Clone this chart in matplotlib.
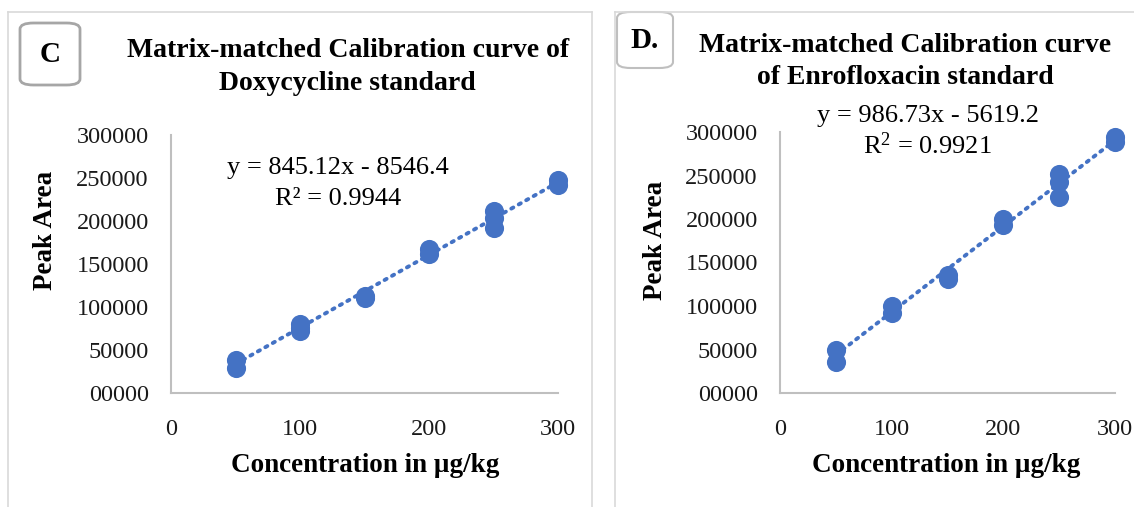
import matplotlib
matplotlib.use("Agg")
import matplotlib.pyplot as plt
from matplotlib.patches import FancyBboxPatch
from matplotlib.lines import Line2D
from matplotlib.ticker import FuncFormatter
import numpy as np

W, H = 1134, 507

# Doxycycline calibration (concentration in µg/kg, peak area)
doxy_conc = [50, 50, 100, 100, 100, 150, 150, 200, 200, 250, 250, 250, 300, 300]
doxy_area = [38000, 28500, 80000, 76000, 72000, 113000, 110000, 168000, 162000,
             212000, 203000, 191500, 247500, 242000]
doxy_slope, doxy_icpt, doxy_r2 = 845.12, -8546.4, 0.9944

# Enrofloxacin calibration
enro_conc = [50, 50, 100, 100, 150, 150, 200, 200, 250, 250, 250, 300, 300]
enro_area = [49000, 35500, 99500, 92500, 136000, 130500, 200500, 193500,
             252000, 243000, 225000, 294000, 288500]
enro_slope, enro_icpt, enro_r2 = 986.73, -5619.2, 0.9921

x_ticks = [0, 100, 200, 300]
y_ticks = [0, 50000, 100000, 150000, 200000, 250000, 300000]

BLUE = "#4472C4"
GRID_GREY = "#bfbfbf"
SERIF = ["Liberation Serif", "DejaVu Serif"]

plt.rcParams["font.family"] = SERIF
plt.rcParams["mathtext.fontset"] = "custom"
plt.rcParams["mathtext.rm"] = "Liberation Serif"
plt.rcParams["mathtext.it"] = "Liberation Serif:italic"
plt.rcParams["mathtext.bf"] = "Liberation Serif:bold"

TITLE_FS = 20
AXLABEL_FS = 19.5
EQ_FS = 19
TICK_FS = 17.5

fig = plt.figure(figsize=(W / 100, H / 100), dpi=100)
fig.patch.set_facecolor("white")


def fx(px):
    return px / W


def fy(py):
    return 1 - py / H


def add_axes_px(x0, x1, ytop, ybot):
    return fig.add_axes([fx(x0), fy(ybot), (x1 - x0) / W, (ybot - ytop) / H])


def panel_frame(x0, x1, ytop, ybot):
    kw = dict(transform=fig.transFigure, color="#d9d9d9", lw=1.2)
    fig.add_artist(Line2D([fx(x0), fx(x0)], [fy(ytop), fy(ybot)], **kw))
    fig.add_artist(Line2D([fx(x0), fx(x1)], [fy(ytop), fy(ytop)], **kw))
    fig.add_artist(Line2D([fx(x1), fx(x1)], [fy(ytop), fy(ybot)], **kw))


def label_box(x0, x1, ytop, ybot, text, ec, lw):
    box = FancyBboxPatch((fx(x0), fy(ybot)), fx(x1) - fx(x0), fy(ytop) - fy(ybot),
                         boxstyle="round,pad=0,rounding_size=0.012",
                         transform=fig.transFigure, fc="white", ec=ec, lw=lw)
    fig.add_artist(box)
    fig.text(fx((x0 + x1) / 2), fy((ytop + ybot) / 2 + 1), text, ha="center",
             va="center", fontsize=21, fontweight="bold")


def draw_panel(ax, conc, area, slope, icpt):
    ax.scatter(conc, area, s=190, color=BLUE, zorder=3, linewidths=0,
               clip_on=False)
    xs = np.array([min(conc), max(conc)])
    ax.plot(xs, slope * xs + icpt, linestyle=(0, (0.6, 1.6)), color=BLUE,
            lw=2.8, zorder=2, dash_capstyle="round")
    ax.set_xlim(0, 300)
    ax.set_ylim(0, 300000)
    ax.set_xticks(x_ticks)
    ax.set_yticks(y_ticks)
    ax.yaxis.set_major_formatter(FuncFormatter(lambda v, p: f"{int(v):05d}"))
    for s in ("top", "right"):
        ax.spines[s].set_visible(False)
    for s in ("left", "bottom"):
        ax.spines[s].set_color(GRID_GREY)
        ax.spines[s].set_linewidth(1.5)
    ax.tick_params(length=0, labelsize=TICK_FS, colors="#1a1a1a")
    ax.tick_params(axis="y", pad=16)
    ax.tick_params(axis="x", pad=19)
    ax.set_facecolor("white")


# Panel frames
panel_frame(8, 592, 12, 520)
panel_frame(615, 1140, 12, 520)

# Panel C: doxycycline
axc = add_axes_px(171, 558, 135, 393)
draw_panel(axc, doxy_conc, doxy_area, doxy_slope, doxy_icpt)
fig.text(fx(348), fy(50), "Matrix-matched Calibration curve of", ha="center",
         va="center", fontsize=TITLE_FS, fontweight="bold")
fig.text(fx(347), fy(84), "Doxycycline standard", ha="center", va="center",
         fontsize=TITLE_FS, fontweight="bold")
fig.text(fx(338), fy(168), f"y = {doxy_slope:.2f}x - {abs(doxy_icpt):.1f}",
         ha="center", va="center", fontsize=EQ_FS)
fig.text(fx(338), fy(199), f"R² = {doxy_r2:.4f}", ha="center", va="center",
         fontsize=EQ_FS)
fig.text(fx(45), fy(230), "Peak Area", rotation=90, ha="center", va="center",
         fontsize=AXLABEL_FS, fontweight="bold")
fig.text(fx(365), fy(466), "Concentration in µg/kg", ha="center", va="center",
         fontsize=AXLABEL_FS, fontweight="bold")
label_box(20, 80, 23, 85, "C", "#a6a6a6", 2.0)

# Panel D: enrofloxacin
axd = add_axes_px(780, 1115, 132, 393)
draw_panel(axd, enro_conc, enro_area, enro_slope, enro_icpt)
fig.text(fx(905), fy(45), "Matrix-matched Calibration curve", ha="center",
         va="center", fontsize=TITLE_FS, fontweight="bold")
fig.text(fx(905), fy(77), "of Enrofloxacin standard", ha="center",
         va="center", fontsize=TITLE_FS, fontweight="bold")
fig.text(fx(928), fy(116), f"y = {enro_slope:.2f}x - {abs(enro_icpt):.1f}",
         ha="center", va="center", fontsize=EQ_FS)
fig.text(fx(927), fy(146), f"R$^2$ = {enro_r2:.4f}", ha="center", va="center",
         fontsize=EQ_FS)
fig.text(fx(655), fy(240), "Peak Area", rotation=90, ha="center", va="center",
         fontsize=AXLABEL_FS, fontweight="bold")
fig.text(fx(946), fy(466), "Concentration in µg/kg", ha="center", va="center",
         fontsize=AXLABEL_FS, fontweight="bold")
label_box(617, 673, 12, 68, "D.", "#bfbfbf", 1.5)

fig.savefig("out.png", dpi=100, facecolor="white")
